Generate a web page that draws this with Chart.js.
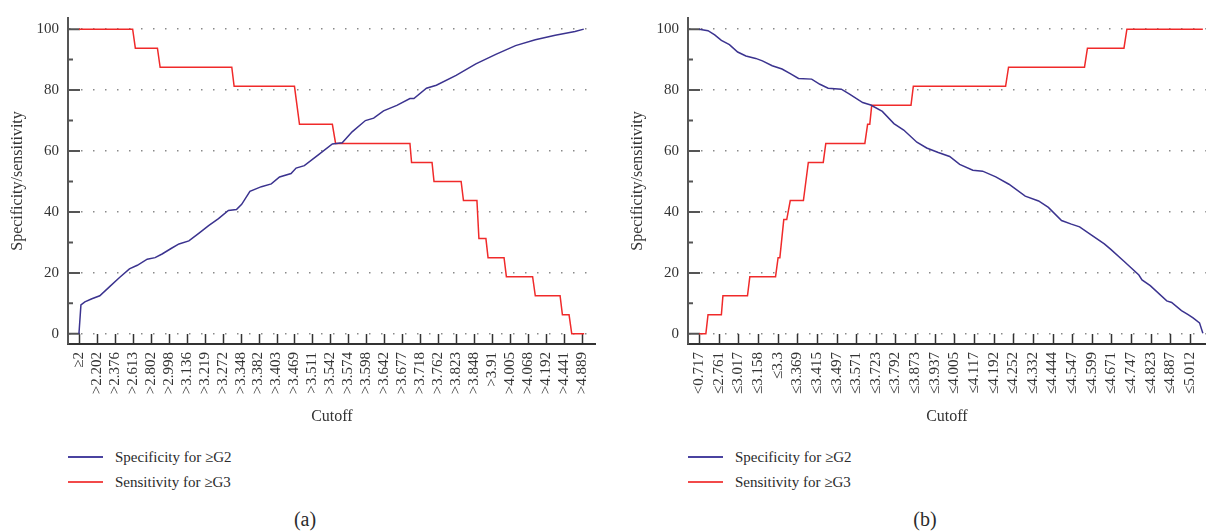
<!DOCTYPE html>
<html>
<head>
<meta charset="utf-8">
<script src="https://cdn.jsdelivr.net/npm/chart.js@4.4.1/dist/chart.umd.min.js"></script>
<style>
  body { margin: 0; width: 1216px; height: 531px; overflow: hidden; position: relative; background: #fff;
         font-family: "Liberation Serif", "DejaVu Serif", serif; color: #2b2b2b; }
  .panel { position: absolute; top: 0; }
  .lg { position: absolute; height: 18px; font-size: 15px; line-height: 18px; white-space: nowrap; }
  .lg i { position: absolute; left: 0; top: 8px; width: 35px; height: 2px; }
  .lg span { position: absolute; left: 47px; top: 0; }
  .cap { position: absolute; top: 507px; width: 100px; text-align: center; font-size: 20px; line-height: 24px; }
</style>
</head>
<body>
<div class="panel" style="left:0px"><canvas id="chartA" width="608" height="430"></canvas></div>
<div class="panel" style="left:620px"><canvas id="chartB" width="596" height="430"></canvas></div>

<div class="lg" style="left:68px; top:448px"><i style="background:#4a43a0"></i><span>Specificity for ≥G2</span></div>
<div class="lg" style="left:68px; top:472.5px"><i style="background:#f24a4a"></i><span>Sensitivity for ≥G3</span></div>
<div class="lg" style="left:688px; top:448px"><i style="background:#4a43a0"></i><span>Specificity for ≥G2</span></div>
<div class="lg" style="left:688px; top:472.5px"><i style="background:#f24a4a"></i><span>Sensitivity for ≥G3</span></div>
<div class="cap" style="left:255px">(a)</div>
<div class="cap" style="left:875px">(b)</div>

<script>
// cutoff tick labels (one label every few cutoffs)
var labelsA = ['≥2','>2.202','>2.376','>2.613','>2.802','>2.998','>3.136','>3.219','>3.272','>3.348',
  '>3.382','>3.403','>3.469','>3.511','>3.542','>3.574','>3.598','>3.642','>3.677','>3.718',
  '>3.762','>3.823','>3.848','>3.91','>4.005','>4.068','>4.192','>4.441','>4.889'];
var labelsB = ['<0.717','≤2.761','≤3.017','≤3.158','≤3.3','≤3.369','≤3.415','≤3.497','≤3.571','≤3.723',
  '≤3.792','≤3.873','≤3.937','≤4.005','≤4.117','≤4.192','≤4.252','≤4.332','≤4.444','≤4.547',
  '≤4.599','≤4.671','≤4.747','≤4.823','≤4.887','≤5.012'];
var yTicks = [0, 20, 40, 60, 80, 100];

// (a) specificity for >=G2 (x in label positions)
var specA_x = [0,0.11,0.33,0.72,1.16,1.71,2.26,2.81,3.25,3.80,4.24,4.63,5.13,5.57,6.12,6.67,7.22,7.77,8.32,8.77,
  9.06,9.52,10.16,10.71,11.17,11.81,12.09,12.55,13.29,14.11,14.66,15.21,15.95,16.41,16.96,17.70,18.43,18.65,
  19.35,19.90,21.0,22.10,23.21,24.31,25.41,26.52,27.62,28.11];
var specA_y = [0,9.5,10.5,11.5,12.5,15.5,18.5,21.3,22.5,24.5,25,26.2,28,29.5,30.5,33,35.5,37.8,40.5,40.8,
  42.5,46.8,48.3,49.2,51.5,52.6,54.4,55.2,58.6,62.3,62.7,66.3,70,70.8,73.2,75,77.2,77.2,
  80.6,81.6,84.8,88.6,91.7,94.6,96.5,98,99.2,100];
// (a) sensitivity for >=G3
var sensA_x = [0,2.99,3.14,4.37,4.52,8.51,8.64,12.0,12.28,14.11,14.29,18.43,18.52,19.66,19.77,21.28,21.41,
  22.16,22.27,22.66,22.78,23.67,23.8,25.26,25.41,26.79,26.92,27.29,27.44,28.13];
var sensA_y = [100,100,93.75,93.75,87.5,87.5,81.25,81.25,68.75,68.75,62.5,62.5,56.25,56.25,50,50,43.75,
  43.75,31.25,31.25,25,25,18.75,18.75,12.5,12.5,6.25,6.25,0,0];

// (b) specificity for >=G2
var specB_x = [0,0.45,0.79,1.13,1.54,1.96,2.38,2.88,3.22,3.72,4.22,4.64,5.06,5.73,6.15,6.57,7.24,7.66,8.33,
  8.74,9.33,9.92,10.42,11.09,11.59,12.18,12.76,13.27,13.94,14.44,15.11,15.78,16.61,17.29,17.79,18.46,18.96,
  19.38,19.97,20.64,20.97,21.64,22.40,22.56,22.98,23.82,24.07,24.57,24.91,25.16,25.49,25.66];
var specB_y = [100,99.5,98.1,96.3,94.9,92.5,91.2,90.4,89.6,88,86.9,85.4,83.8,83.6,81.9,80.6,80.3,78.7,75.9,
  75.1,73,69,66.9,62.9,61,59.5,58.2,55.6,53.7,53.4,51.5,49.1,45.2,43.6,41.5,37.2,36,
  35.1,32.5,29.5,27.7,23.8,19.3,17.7,15.8,10.8,10.3,7.6,6.3,5.2,3.6,0.2];
// (b) sensitivity for >=G3
var sensB_x = [0,0.34,0.45,1.13,1.21,2.46,2.58,3.89,4.02,4.11,4.31,4.46,4.64,5.31,5.56,6.32,6.45,8.44,8.58,
  8.69,8.79,10.79,10.91,15.61,15.76,19.63,19.78,21.64,21.79,25.66];
var sensB_y = [0,0,6.25,6.25,12.5,12.5,18.75,18.75,25,25,37.5,37.5,43.75,43.75,56.25,56.25,62.5,62.5,68.75,
  68.75,75,75,81.25,81.25,87.5,87.5,93.75,93.75,100,100];

var BLUE = '#3b338f', RED = '#f02a2a', FONT = 'Liberation Serif';

function pts(xs, ys) { return xs.map(function (x, i) { return { x: x, y: ys[i] }; }); }

// inward tick marks on both axes
var inwardTicks = {
  id: 'inwardTicks',
  beforeDatasetsDraw: function (chart) {
    var ctx = chart.ctx, x = chart.scales.x, y = chart.scales.y;
    ctx.save();
    ctx.strokeStyle = '#333';
    ctx.lineWidth = 1.5;
    ctx.beginPath();
    x.ticks.forEach(function (t) {
      var px = Math.round(x.getPixelForValue(t.value)) + 0.5;
      ctx.moveTo(px, x.top);
      ctx.lineTo(px, x.top - 10);
    });
    ctx.stroke();
    ctx.strokeStyle = '#555';
    ctx.lineWidth = 2;
    ctx.beginPath();
    for (var i = 0; i < yTicks.length; i++) {
      var py = y.getPixelForValue(yTicks[i]);
      ctx.moveTo(y.right, py); ctx.lineTo(y.right + 12, py);
      if (i < yTicks.length - 1) {
        var pm = y.getPixelForValue((yTicks[i] + yTicks[i + 1]) / 2);
        ctx.moveTo(y.right, pm); ctx.lineTo(y.right + 5, pm);
      }
    }
    ctx.stroke();
    ctx.restore();
  }
};

function makeChart(id, labels, sx, sy, ex, ey, xmin, xmax, padRight) {
  return new Chart(document.getElementById(id), {
    type: 'line',
    data: {
      datasets: [
        { label: 'Specificity for ≥G2', data: pts(sx, sy), borderColor: BLUE, borderWidth: 1.5, pointRadius: 0, tension: 0 },
        { label: 'Sensitivity for ≥G3', data: pts(ex, ey), borderColor: RED, borderWidth: 1.5, pointRadius: 0, tension: 0 }
      ]
    },
    options: {
      responsive: false,
      animation: false,
      layout: { padding: { top: 7.5, right: padRight, left: 0, bottom: 0 } },
      plugins: { legend: { display: false }, tooltip: { enabled: false } },
      scales: {
        x: {
          type: 'linear',
          min: xmin,
          max: xmax,
          afterBuildTicks: function (s) { s.ticks = labels.map(function (_, i) { return { value: i }; }); },
          afterFit: function (s) { s.height = 86; },
          grid: { display: false, drawTicks: false },
          border: { color: '#333', width: 2 },
          ticks: {
            autoSkip: false, minRotation: 90, maxRotation: 90, padding: 8, color: '#333',
            font: { family: FONT, size: 15 },
            callback: function (v) { return labels[Math.round(v)]; }
          },
          title: { display: true, text: 'Cutoff', color: '#333', font: { family: FONT, size: 16 }, padding: { top: 4, bottom: 4 } }
        },
        y: {
          min: -3.34,
          max: 103.66,
          afterBuildTicks: function (s) { s.ticks = yTicks.map(function (v) { return { value: v }; }); },
          afterFit: function (s) { s.width = 68; },
          grid: { drawTicks: false, color: '#8a8a8a', lineWidth: 1.5 },
          border: { color: '#555', width: 2, dash: [1.5, 10.5] },
          ticks: { padding: 9, color: '#333', font: { family: FONT, size: 15 } },
          title: { display: true, text: 'Specificity/sensitivity', color: '#333', font: { family: FONT, size: 16 }, padding: { top: 8.4 } }
        }
      }
    },
    plugins: [inwardTicks]
  });
}

makeChart('chartA', labelsA, specA_x, specA_y, sensA_x, sensA_y, -0.61, 28.78, 7);
makeChart('chartB', labelsB, specB_x, specB_y, sensB_x, sensB_y, -0.57, 25.81, 3);
</script>
</body>
</html>
